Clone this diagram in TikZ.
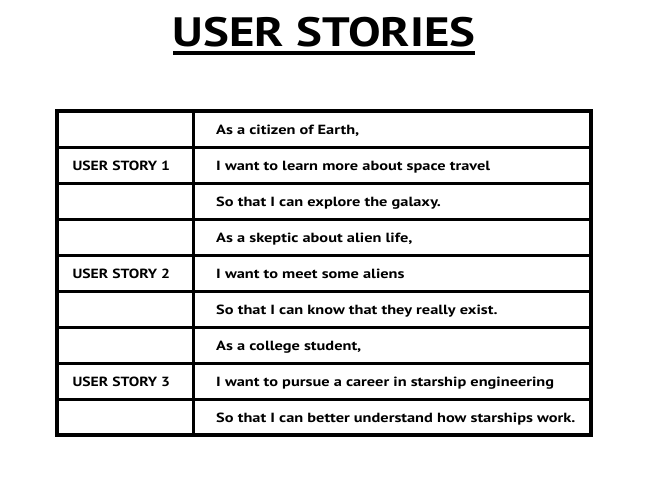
\documentclass[tikz,border=0pt]{standalone}
\usepackage{fontspec}
\setmainfont{PT Sans}
\newfontfamily\leftfont[FakeStretch=1.18]{PT Sans}
\newfontfamily\rightfont[FakeStretch=1.23]{PT Sans}
\newfontfamily\titlefont[FakeStretch=1.19]{PT Sans}
\begin{document}
\begin{tikzpicture}[x=1pt,y=-1pt,
  innerline/.style={line width=3pt,black},
  outerline/.style={line width=4pt,black},
  lefttext/.style={anchor=base west,inner sep=0pt,font=\leftfont\bfseries\fontsize{13.3}{15}\selectfont},
  righttext/.style={anchor=base west,inner sep=0pt,font=\rightfont\bfseries\fontsize{13.3}{15}\selectfont},
  titletext/.style={anchor=base,inner sep=0pt,font=\titlefont\bfseries\fontsize{41}{45}\selectfont}]
\useasboundingbox (0,0) rectangle (648,493);
\fill[white] (0,0) rectangle (648,493);
\node[titletext] (title) at (324.2,46.7) {USER STORIES};
\draw[line width=4pt] (173.3,53) -- (475,53);
% table
\foreach \y in {147,183,219,255,291,327,363,399.5} \draw[innerline] (57,\y) -- (591.3,\y);
\draw[innerline] (193.3,111) -- (193.3,434.7);
\draw[outerline] (57,111) rectangle (591.3,434.7);
% left column
\node[lefttext] (us1) at (72.3,170.8) {USER STORY 1};
\node[lefttext] (us2) at (72.3,278.8) {USER STORY 2};
\node[lefttext] (us3) at (72.3,386.8) {USER STORY 3};
% right column
\node[righttext] (r1) at (216,134.5) {As a citizen of Earth,};
\node[righttext] (r2) at (216,170.8) {I want to learn more about space travel};
\node[righttext] (r3) at (216,206.5) {So that I can explore the galaxy.};
\node[righttext] (r4) at (216,242.5) {As a skeptic about alien life,};
\node[righttext] (r5) at (216,278.8) {I want to meet some aliens};
\node[righttext] (r6) at (216,314.5) {So that I can know that they really exist.};
\node[righttext] (r7) at (216,350.5) {As a college student,};
\node[righttext] (r8) at (216,386.8) {I want to pursue a career in starship engineering};
\node[righttext] (r9) at (216,422.5) {So that I can better understand how starships work.};
\end{tikzpicture}
\end{document}
